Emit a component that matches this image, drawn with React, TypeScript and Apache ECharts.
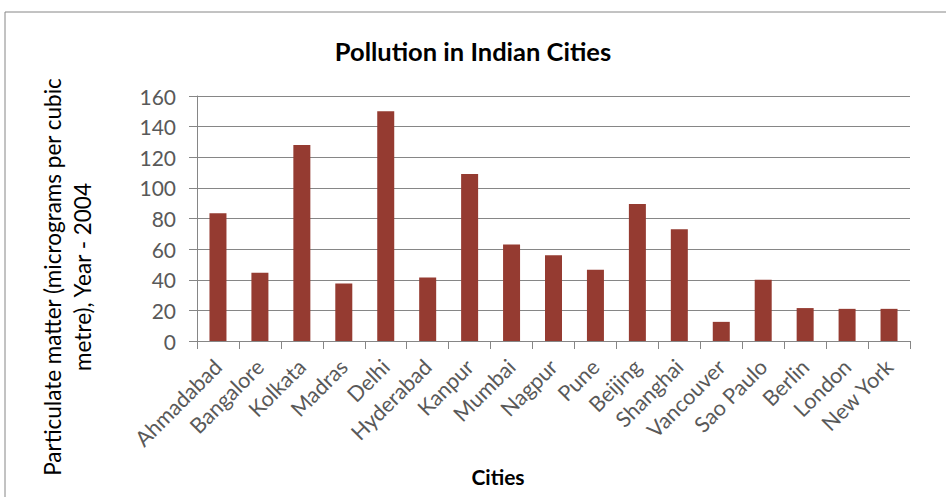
import React, { useEffect, useRef } from "react";
import * as echarts from "echarts";

const cities = [
  "Ahmadabad", "Bangalore", "Kolkata", "Madras", "Delhi", "Hyderabad", "Kanpur", "Mumbai",
  "Nagpur", "Pune", "Beijing", "Shanghai", "Vancouver", "Sao Paulo", "Berlin", "London", "New York",
];
const pm2004 = [83.5, 44.5, 128, 37.5, 150, 41.5, 109, 63, 56, 46.5, 89.5, 73, 12.5, 40, 21.5, 21, 21];
const yTicks = [0, 20, 40, 60, 80, 100, 120, 140, 160];

const FONT = "Lato, 'Open Sans', sans-serif";

export default function App() {
  const ref = useRef<HTMLDivElement>(null);
  useEffect(() => {
    if (!ref.current) return;
    const chart = echarts.init(ref.current, null, { renderer: "svg" });
    chart.setOption({
      animation: false,
      backgroundColor: "#ffffff",
      title: {
        text: "Pollution in Indian Cities",
        left: 468,
        top: 33,
        textAlign: "center",
        textStyle: { fontFamily: FONT, fontSize: 25.5, fontWeight: "bold", color: "#000" },
      },
      grid: { left: 197, right: 36, top: 96, bottom: 156, containLabel: false },
      xAxis: {
        type: "category",
        data: cities,
        axisLine: { lineStyle: { color: "#868686", width: 1 } },
        axisTick: { show: true, length: 8, lineStyle: { color: "#868686" } },
        axisLabel: {
          rotate: 45,
          interval: 0,
          margin: 22,
          fontFamily: FONT,
          fontSize: 21.5,
          color: "#595959",
          verticalAlign: "middle",
        },
      },
      yAxis: {
        type: "value",
        min: yTicks[0],
        max: yTicks[yTicks.length - 1],
        interval: 20,
        axisLine: { show: true, lineStyle: { color: "#868686", width: 1 } },
        axisTick: { show: true, length: 8, lineStyle: { color: "#868686" } },
        axisLabel: { fontFamily: FONT, fontSize: 21, color: "#595959", margin: 21 },
        splitLine: { show: true, lineStyle: { color: "#868686", width: 1 } },
      },
      series: [
        {
          type: "bar",
          data: pm2004,
          barWidth: 17,
          itemStyle: { color: "#953B31" },
        },
      ],
      graphic: [
        {
          type: "rect",
          silent: true,
          shape: { x: 5, y: 12, width: 960, height: 520 },
          style: { fill: "none", stroke: "#868686", lineWidth: 1 },
        },
        {
          type: "text",
          x: 67,
          y: 277,
          rotation: Math.PI / 2,
          style: {
            text: "Particulate matter (micrograms per cubic\nmetre), Year - 2004",
            fontFamily: FONT,
            fontSize: 22.5,
            lineHeight: 30,
            fill: "#000",
            align: "center",
            verticalAlign: "middle",
          },
        },
        {
          type: "text",
          x: 498,
          y: 476,
          style: {
            text: "Cities",
            fontFamily: FONT,
            fontSize: 21,
            fontWeight: "bold",
            fill: "#000",
            align: "center",
            verticalAlign: "middle",
          },
        },
      ],
    });
    return () => chart.dispose();
  }, []);
  return (
    <div
      ref={ref}
      style={{ position: "fixed", left: 0, top: 0, width: 946, height: 497 }}
    />
  );
}
